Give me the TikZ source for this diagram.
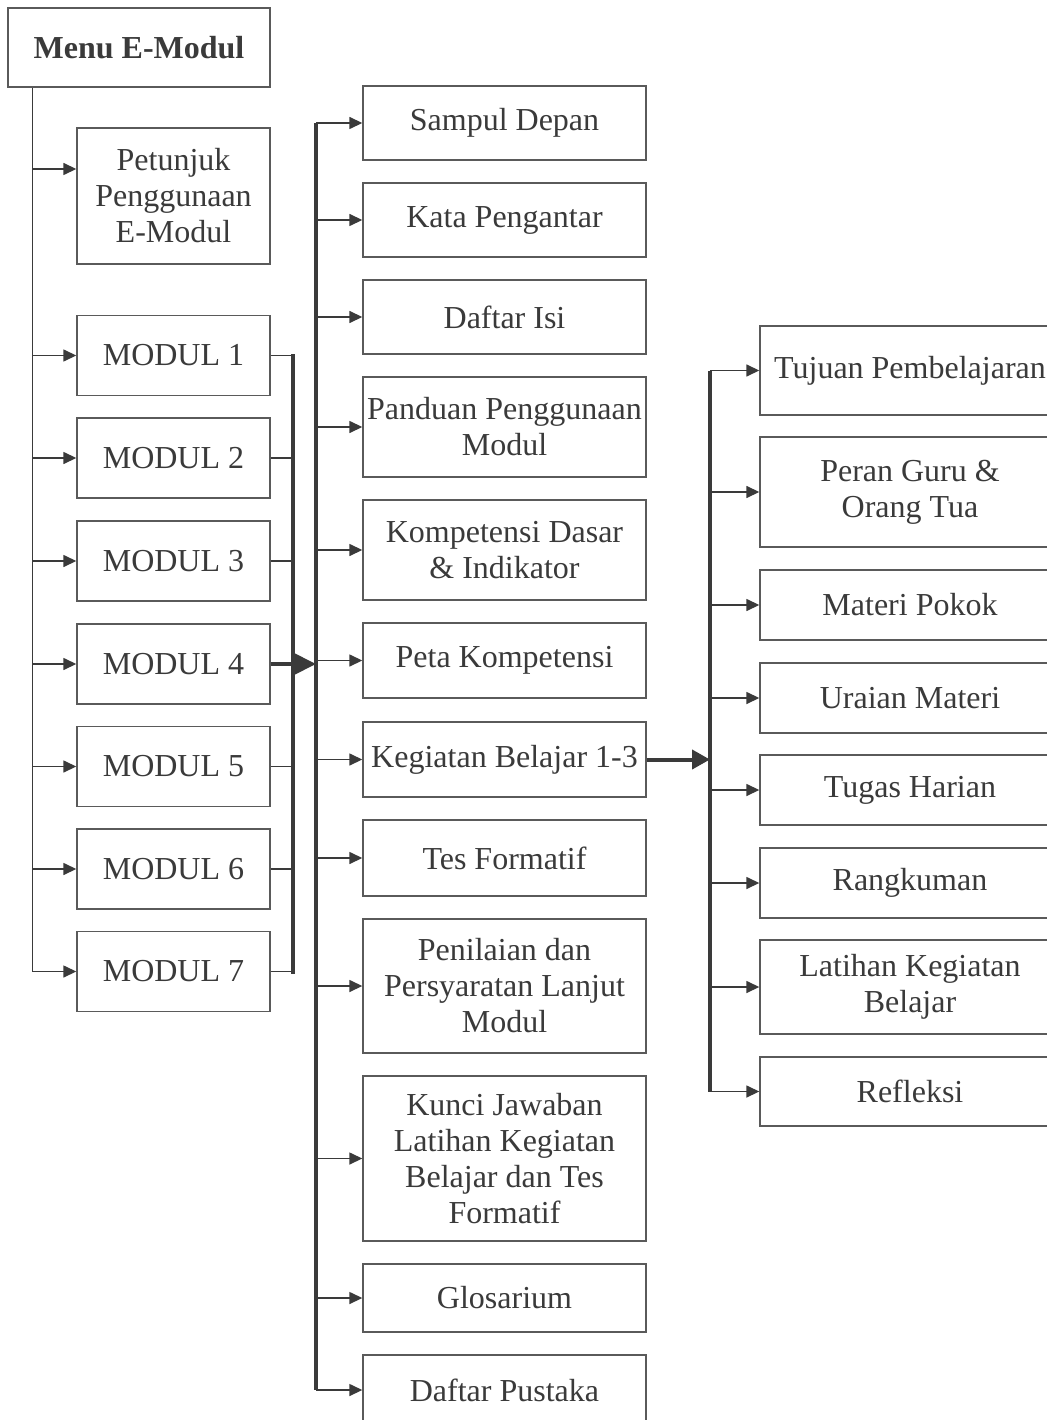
\documentclass[tikz,border=0pt]{standalone}
\usepackage{fontspec}
\setmainfont{Liberation Serif}
\usetikzlibrary{arrows.meta,calc}
\definecolor{ink}{HTML}{3A3A3A}
\definecolor{edge}{HTML}{5A5A5A}
\begin{document}
\begin{tikzpicture}[x=1pt,y=-1pt,
  box/.style={draw=edge, line width=1.4pt, rectangle, align=center, inner sep=1pt,
    text=ink, font=\fontsize{32}{36}\selectfont},
  lbox/.style={box, minimum width=193pt, minimum height=80pt},
  mbox/.style={box, minimum width=283pt},
  rbox/.style={box, minimum width=300pt},
  conn/.style={draw=ink, line width=1.5pt},
  arr/.style={conn, -{Triangle[length=13pt,width=12pt]}},
  trunk/.style={draw=ink, line width=4pt},
  bigarr/.style={draw=ink, line width=4pt, -{Triangle[length=22pt,width=21pt]}},
  midarr/.style={draw=ink, line width=4pt, -{Triangle[length=18pt,width=19pt]}}]
\useasboundingbox[fill=white] (0,0) rectangle (1046,1420);

% left column
\node[box, minimum width=262pt, minimum height=79pt] (menu) at (139,47.5) {\bfseries Menu E-Modul};
\node[box, minimum width=193pt, minimum height=136pt] (pet) at (173.5,196) {Petunjuk\\Penggunaan\\E-Modul};
\node[lbox] (m1) at (173.5,355.5) {MODUL 1};
\node[lbox] (m2) at (173.5,458) {MODUL 2};
\node[lbox] (m3) at (173.5,561) {MODUL 3};
\node[lbox] (m4) at (173.5,664) {MODUL 4};
\node[lbox] (m5) at (173.5,766.5) {MODUL 5};
\node[lbox] (m6) at (173.5,869) {MODUL 6};
\node[lbox] (m7) at (173.5,971.5) {MODUL 7};

% middle column
\node[mbox, minimum height=74pt] (s1) at (504.5,123) {Sampul Depan};
\node[mbox, minimum height=74pt] (s2) at (504.5,220) {Kata Pengantar};
\node[mbox, minimum height=74pt] (s3) at (504.5,317) {Daftar Isi};
\node[mbox, minimum height=100pt] (s4) at (504.5,427) {Panduan Penggunaan\\Modul};
\node[mbox, minimum height=100pt] (s5) at (504.5,550) {Kompetensi Dasar\\\& Indikator};
\node[mbox, minimum height=75pt] (s6) at (504.5,660.5) {Peta Kompetensi};
\node[mbox, minimum height=75pt] (s7) at (504.5,759.5) {Kegiatan Belajar 1-3};
\node[mbox, minimum height=76pt] (s8) at (504.5,858) {Tes Formatif};
\node[mbox, minimum height=134pt] (s9) at (504.5,986) {Penilaian dan\\Persyaratan Lanjut\\Modul};
\node[mbox, minimum height=165pt] (s10) at (504.5,1158.5) {Kunci Jawaban\\Latihan Kegiatan\\Belajar dan Tes\\Formatif};
\node[mbox, minimum height=68pt] (s11) at (504.5,1298) {Glosarium};
\node[mbox, minimum height=70pt] (s12) at (504.5,1390) {Daftar Pustaka};

% right column
\node[rbox, minimum height=89pt] (r1) at (910,370.5) {Tujuan Pembelajaran};
\node[rbox, minimum height=110pt] (r2) at (910,492) {Peran Guru \&\\Orang Tua};
\node[rbox, minimum height=70pt] (r3) at (910,605) {Materi Pokok};
\node[rbox, minimum height=70pt] (r4) at (910,698) {Uraian Materi};
\node[rbox, minimum height=70pt] (r5) at (910,790) {Tugas Harian};
\node[rbox, minimum height=70pt] (r6) at (910,883) {Rangkuman};
\node[rbox, minimum height=94pt] (r7) at (910,987) {Latihan Kegiatan\\Belajar};
\node[rbox, minimum height=69pt] (r8) at (910,1091.5) {Refleksi};

% left trunk
\coordinate (L0) at ($(menu.south west)+(25pt,0)$);
\path[conn] (L0) -- (L0 |- m7.west);
\path[arr] ([yshift=27pt]pet.west -| L0) -- ([yshift=27pt]pet.west);
\foreach \m in {m1,m2,m3,m4,m5,m6,m7}{
  \path[arr] (L0 |- \m.west) -- (\m.west);
}

% module bracket
\coordinate (B) at (293,0);
\foreach \m in {m1,m2,m3,m5,m6,m7}{
  \path[conn] (\m.east) -- (B |- \m.east);
}
\path[trunk, line cap=rect] (B |- m1.east) -- (B |- m7.east);
\coordinate (M) at (316,0);
\path[bigarr] (m4.east) -- (M |- m4.east);

% middle trunk
\path[trunk] (M |- s1.west) -- (M |- s12.west);
\foreach \s in {s1,s2,s3,s4,s5,s6,s7,s8,s9,s10,s11,s12}{
  \path[arr] (M |- \s.west) -- (\s.west);
}

% right trunk
\coordinate (R) at (710,0);
\path[midarr] (s7.east) -- (R |- s7.east);
\path[trunk] (R |- r1.west) -- (R |- r8.west);
\foreach \r in {r1,r2,r3,r4,r5,r6,r7,r8}{
  \path[arr] (R |- \r.west) -- (\r.west);
}
\end{tikzpicture}
\end{document}
